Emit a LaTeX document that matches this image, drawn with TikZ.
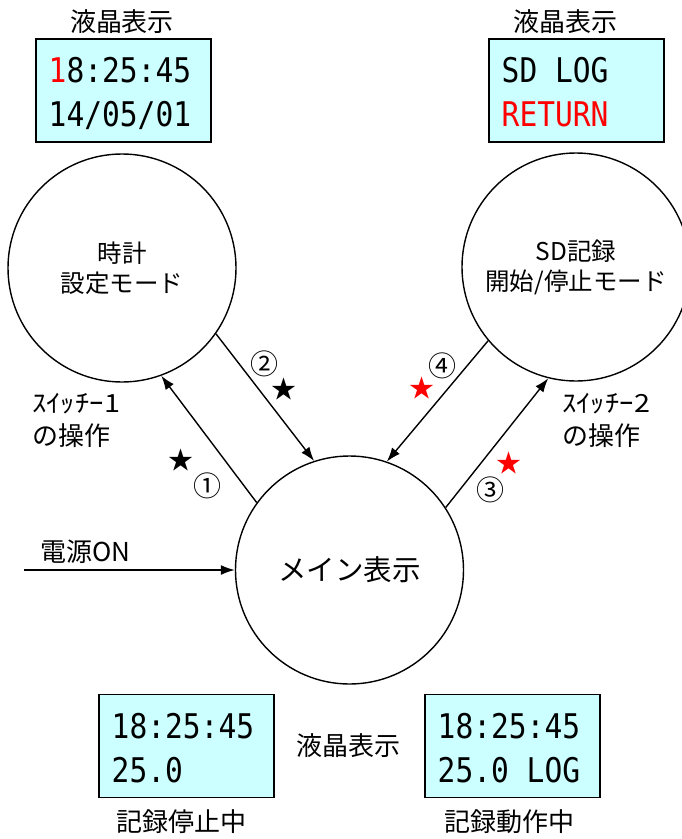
\documentclass[tikz,border=0pt]{standalone}
\usepackage{fontspec}
\setmainfont{Noto Sans CJK JP}
\newfontfamily\lcdfont[FakeStretch=0.87]{DejaVu Sans Mono}
\usetikzlibrary{arrows.meta}
\definecolor{lcdbg}{HTML}{CCFFFF}
\definecolor{hotred}{HTML}{FF0000}
\begin{document}
\begin{tikzpicture}[x=1pt,y=-1pt,
  state/.style={circle, draw, line width=1.4pt, minimum size=228pt, inner sep=0pt, align=center, font=\fontsize{24.5}{30}\selectfont},
  lcd/.style={draw, line width=1.4pt, fill=lcdbg, minimum width=175pt, minimum height=103pt, inner sep=0pt},
  lcdtext/.style={anchor=base west, inner sep=0pt, font=\lcdfont\fontsize{34}{34}\selectfont},
  lbl/.style={inner sep=0pt, font=\fontsize{26}{30}\selectfont},
  numlbl/.style={inner sep=0pt, font=\fontsize{28}{30}\selectfont},
  starlbl/.style={inner sep=0pt, font=\fontsize{25}{30}\selectfont},
  arr/.style={line width=1.4pt, -{Latex[length=14pt,width=10pt]}}
]
\useasboundingbox (0,0) rectangle (682,839);
% state circles
\node[state] (clock) at (122,268) {時計\\設定モード};
\node[state] (sd) at (576,267) {SD記録\\開始/停止モード};
\node[state, font=\fontsize{28.5}{30}\selectfont] (main) at (349.5,570) {メイン表示};
% LCD boxes
\node[lcd] (lcdA) at (123.5,90.5) {};
\node[lcd] (lcdB) at (576.5,90.5) {};
\node[lcd] (lcdC) at (186.5,746) {};
\node[lcd] (lcdD) at (512.5,746) {};
\node[lcdtext] (lcdA1) at (48.5,82.5) {\textcolor{hotred}{1}8:25:45};
\node[lcdtext] (lcdA2) at (48.5,126) {14/05/01};
\node[lcdtext] (lcdB1) at (501.5,82.5) {SD LOG};
\node[lcdtext, text=hotred] (lcdB2) at (501.5,126) {RETURN};
\node[lcdtext] (lcdC1) at (111.5,738.5) {18:25:45};
\node[lcdtext] (lcdC2) at (111.5,782) {25.0};
\node[lcdtext] (lcdD1) at (437.5,738.5) {18:25:45};
\node[lcdtext] (lcdD2) at (437.5,782) {25.0 LOG};
% labels
\node[lbl] (lblA) at (122,22) {液晶表示};
\node[lbl] (lblB) at (565,22) {液晶表示};
\node[lbl] (lblC) at (348,746) {液晶表示};
\node[lbl] (stopLbl) at (181,822) {記録停止中};
\node[lbl] (runLbl) at (509,822) {記録動作中};
\node[lbl, anchor=west, font=\fontsize{25}{30}\selectfont] (sw1a) at (32,404) {\scalebox{1.15}[1]{ｽｲｯﾁｰ1}};
\node[lbl, anchor=west] (sw1b) at (32,436) {の操作};
\node[lbl, anchor=west, font=\fontsize{25}{30}\selectfont] (sw2a) at (562,404) {\scalebox{1.15}[1]{ｽｲｯﾁｰ2}};
\node[lbl, anchor=west] (sw2b) at (562,436) {の操作};
\node[lbl, anchor=west] (pwrLbl) at (40,552) {電源ON};
% numbers and stars
\node[numlbl] (num1) at (207,486) {①};
\node[numlbl] (num2) at (264,364) {②};
\node[numlbl] (num3) at (490,490) {③};
\node[numlbl] (num4) at (442,366) {④};
\node[starlbl] (star1) at (181,460) {★};
\node[starlbl] (star2) at (284,389) {★};
\node[starlbl, text=hotred] (star3) at (509,463) {★};
\node[starlbl, text=hotred] (star4) at (422,388) {★};
% arrows
\draw[arr] (main.144) -- (clock.-70.6);
\draw[arr] (clock.-35) -- (main.108.5);
\draw[arr] (main.33) -- (sd.-104);
\draw[arr] (sd.-140.6) -- (main.71.2);
\coordinate (pwr) at (24,570);
\draw[arr] (pwr) -- (main.west);
\end{tikzpicture}
\end{document}
